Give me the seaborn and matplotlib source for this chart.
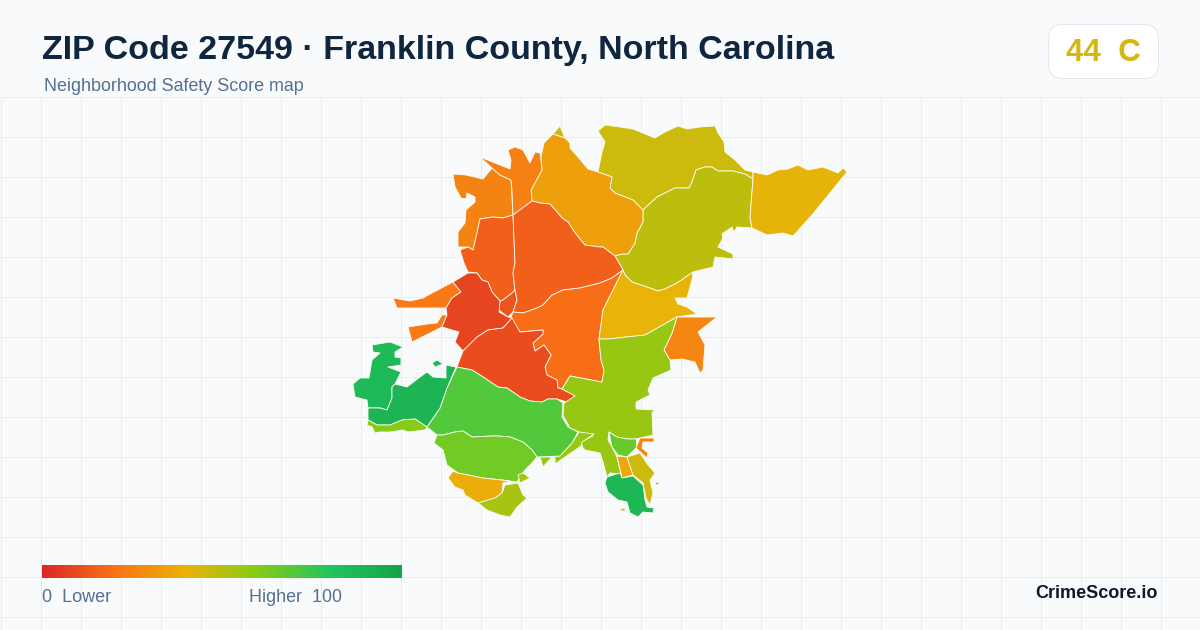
import matplotlib
matplotlib.use("Agg")
import matplotlib.pyplot as plt
from matplotlib.colors import Normalize
from matplotlib.patches import FancyBboxPatch
import numpy as np
import seaborn as sns

# ---- text ----
TITLE = "ZIP Code 27549 · Franklin County, North Carolina"
SUBTITLE = "Neighborhood Safety Score map"
BADGE = "44  C"
BRAND = "CrimeScore.io"
LEGEND_LOW = "0  Lower"
LEGEND_HIGH = "Higher  100"
SCALE_COLORS = ["#dc2626", "#f97316", "#eab308", "#84cc16", "#22c55e", "#16a34a"]

# ---- tract outlines, in map units, and their safety scores ----
north_tip = [(553,134),(560,126),(565,138)]
north_olive = [(598,131),(605,125),(620,127),(633,129),(655,138),(665,132),(678,126),(687,129),(700,127),(715,126),(718,133),(724,142),(725,152),(735,160),(745,170),(753,172),(753,179),(745,174),(733,171),(718,171),(712,167),(705,167),(696,170),(692,182),(689,188),(675,188),(665,193),(657,197),(643,210),(633,200),(615,193),(610,188),(612,177),(598,172),(602,152),(605,142)]
mid_olive = [(615,256),(622,254),(628,254),(635,243),(637,233),(643,222),(643,210),(657,197),(665,193),(675,188),(689,188),(692,182),(696,170),(705,167),(712,167),(718,171),(733,171),(745,174),(753,179),(750,218),(752,228),(737,227),(734,232),(732,227),(722,234),(723,238),(718,247),(733,254),(733,259),(715,257),(713,267),(693,272),(677,283),(665,289),(658,291),(647,287),(632,282),(625,275),(623,270)]
east_yellow = [(753,172),(767,175),(778,170),(788,169),(798,165),(808,170),(823,167),(838,173),(843,168),(847,172),(812,215),(803,225),(793,236),(783,233),(767,235),(752,228),(750,218),(753,179)]
north_amber = [(553,134),(565,138),(570,143),(570,148),(578,157),(588,169),(598,172),(612,177),(610,188),(615,193),(633,200),(643,210),(643,222),(637,233),(635,243),(628,254),(622,254),(615,256),(603,247),(600,247),(585,245),(579,238),(573,230),(568,222),(562,218),(557,212),(550,204),(540,203),(532,201),(531,190),(542,170),(541,157),(544,143)]
nw_orange = [(453,174),(466,175),(483,179),(492,168),(500,175),(511,180),(513,215),(503,218),(493,217),(480,219),(477,233),(473,250),(468,247),(458,247),(458,232),(465,223),(466,210),(475,202),(475,197),(467,193),(466,199),(461,198),(455,187)]
north_orange = [(480,157),(510,169),(511,160),(508,150),(515,147),(523,150),(530,163),(535,152),(540,153),(542,170),(531,190),(532,201),(513,215),(512,190),(511,180),(500,175),(492,168)]
center_west = [(480,219),(493,217),(503,218),(513,215),(515,263),(513,273),(515,290),(512,293),(503,300),(500,301),(492,292),(488,282),(482,280),(477,273),(468,272),(464,263),(460,250),(468,247),(473,250),(477,233)]
center_knot = [(515,290),(517,300),(513,312),(508,317),(499,310),(500,301),(503,300),(512,293)]
center_north = [(513,215),(532,201),(540,203),(550,204),(557,212),(562,218),(568,222),(573,230),(579,238),(585,245),(600,247),(603,247),(615,256),(623,270),(612,278),(600,283),(580,288),(563,290),(552,295),(543,305),(537,308),(523,313),(513,312),(517,300),(515,290),(513,273),(515,263)]
center_south = [(513,312),(523,313),(537,308),(543,305),(552,295),(563,290),(580,288),(600,283),(612,278),(623,270),(603,310),(599,339),(601,360),(604,370),(602,382),(570,376),(562,389),(558,388),(557,380),(547,375),(545,367),(551,355),(544,345),(535,351),(533,343),(543,334),(543,330),(520,332),(510,320)]
red_core = [(453,282),(468,273),(477,273),(482,280),(488,282),(492,292),(500,301),(499,312),(508,317),(512,318),(503,328),(488,330),(477,337),(463,351),(455,342),(459,332),(442,327),(447,315),(446,308),(452,298),(461,292)]
west_arm = [(393,298),(410,301),(423,298),(432,293),(453,282),(461,292),(452,298),(446,308),(420,308),(397,308)]
west_arm_low = [(408,327),(427,324),(437,323),(442,315),(447,315),(442,327),(430,333),(412,342)]
south_red = [(512,318),(520,332),(543,330),(543,334),(533,343),(535,351),(544,345),(551,355),(545,367),(547,375),(557,380),(558,388),(562,389),(576,396),(567,402),(557,399),(548,399),(542,402),(530,401),(520,397),(507,388),(498,387),(483,377),(472,370),(457,367),(463,351),(477,337),(488,330),(503,328)]
mid_amber = [(623,270),(625,275),(632,282),(647,287),(658,291),(665,289),(677,283),(693,272),(692,280),(687,298),(675,298),(678,304),(687,307),(697,314),(677,317),(645,335),(608,339),(599,339),(603,310)]
east_orange = [(677,317),(717,317),(698,332),(705,345),(703,370),(700,373),(695,362),(682,359),(670,360),(664,350),(672,333)]
lime_main = [(599,339),(608,339),(645,335),(677,317),(672,333),(664,350),(670,360),(671,370),(653,378),(648,390),(650,395),(636,402),(636,409),(655,410),(652,413),(653,435),(636,439),(627,439),(617,437),(609,432),(608,440),(612,447),(617,457),(621,474),(610,473),(607,477),(603,462),(600,453),(585,450),(583,448),(581,442),(593,436),(579,432),(570,428),(563,415),(564,403),(575,396),(562,389),(570,376),(602,382),(604,370),(601,360)]
lime_tail = [(579,432),(594,434),(582,442),(581,446),(555,464),(555,456),(560,456),(572,443)]
lime_sliver = [(540,457),(552,457),(543,467)]
mid_green = [(457,367),(472,370),(483,377),(498,387),(507,388),(520,397),(530,401),(542,402),(548,399),(557,399),(563,403),(562,417),(568,427),(578,432),(572,443),(560,456),(537,457),(532,450),(523,442),(510,437),(498,436),(492,436),(472,437),(463,431),(455,432),(443,435),(437,435),(427,427),(440,408),(447,388)]
south_green = [(437,435),(443,435),(455,432),(463,431),(472,437),(492,436),(498,436),(510,437),(523,442),(532,450),(537,457),(530,465),(525,470),(517,482),(503,480),(483,478),(458,473),(447,465),(443,450),(434,443)]
south_amber = [(453,471),(458,473),(483,478),(510,481),(503,483),(502,493),(495,498),(478,503),(465,495),(463,490),(455,487),(448,478)]
south_lime = [(478,503),(495,498),(502,493),(505,485),(518,483),(523,495),(527,498),(517,507),(510,517),(500,515),(487,510)]
south_lime_bit = [(518,475),(523,473),(530,478),(520,483)]
nw_green = [(372,345),(390,342),(403,347),(395,352),(395,357),(401,358),(401,365),(388,367),(401,372),(395,384),(392,387),(392,398),(387,410),(380,408),(368,408),(367,400),(355,397),(353,384),(360,378),(369,378),(372,360),(380,353),(373,352)]
west_green = [(392,387),(395,384),(407,387),(420,377),(427,372),(433,377),(446,378),(446,365),(456,367),(447,388),(440,408),(427,427),(415,419),(402,420),(390,425),(377,425),(368,420),(368,408),(380,408),(387,410),(392,398)]
west_green_dot = [(432,363),(437,360),(443,364),(435,367)]
west_lime = [(367,425),(368,420),(377,425),(390,425),(402,420),(415,419),(427,427),(425,430),(408,432),(403,430),(390,432),(380,432),(375,433),(372,427)]
se_green = [(609,432),(617,437),(627,439),(636,439),(637,447),(627,457),(618,455),(612,447)]
se_orange = [(640,438),(654,438),(654,442),(643,442),(642,448),(648,453),(647,458),(636,448)]
se_amber = [(617,456),(627,457),(633,475),(622,478)]
se_olive = [(627,457),(640,453),(648,465),(655,473),(650,480),(653,493),(650,505),(646,498),(643,483),(633,475)]
se_dark_green = [(607,477),(620,473),(622,478),(633,476),(643,485),(645,500),(647,507),(654,508),(653,513),(643,512),(638,517),(630,513),(627,502),(618,500),(608,492),(605,483)]
se_dot = [(620,509),(625,508),(625,511),(621,511)]
se_orange_dot = [(655,483),(659,482),(659,484),(656,485)]

TRACTS = [north_tip, north_olive, mid_olive, east_yellow, north_amber, nw_orange, north_orange,
          center_west, center_knot, center_north, center_south, west_arm, west_arm_low, red_core,
          south_red, mid_amber, east_orange, lime_main, lime_tail, lime_sliver, mid_green,
          south_green, south_amber, south_lime, south_lime_bit, nw_green, west_green,
          west_green_dot, west_lime, se_green, se_orange, se_amber, se_olive, se_dark_green,
          se_dot, se_orange_dot]
SCORES = [46, 46, 49, 41, 34, 25, 24,
          15, 12, 15, 19, 22, 22, 8,
          10, 40, 26, 56, 56, 56, 70,
          64, 38, 53, 53, 86, 90,
          86, 60, 66, 25, 36, 46, 88,
          50, 25]

sns.set_theme(style="white")
plt.rcParams["font.family"] = ["Liberation Sans", "DejaVu Sans"]

BG = "#f8fafc"
GRID = "#e3edf2"
fig = plt.figure(figsize=(12, 6.3), dpi=100, facecolor=BG)
ax = fig.add_axes([0, 0, 1, 1], facecolor=BG)
ax.set_axis_off()

# background grid
ax.hlines(np.arange(96.5, 630, 40), 0, 1200, color=GRID, lw=0.72, zorder=0)
ax.vlines(np.arange(0.5, 1201, 40), 96.5, 630, color=GRID, lw=0.72, zorder=0)

cmap = sns.blend_palette(SCALE_COLORS, as_cmap=True)
norm = Normalize(0, 100)

for outline, score in zip(TRACTS, SCORES):
    xs, ys = zip(*outline)
    ax.fill(xs, ys, facecolor=cmap(norm(score)), edgecolor="#fdfdf2", lw=0.6, joinstyle="round", zorder=2)

# legend bar
ramp = np.linspace(0, 100, 360)[None, :]
ax.imshow(ramp, cmap=cmap, norm=norm, extent=(42, 402, 578, 565), aspect="auto", zorder=3)
ax.set_xlim(0, 1200)
ax.set_ylim(630, 0)

# header
ax.text(42, 50, TITLE, fontsize=24.47, fontweight="bold", color="#10263f", va="center", ha="left")
ax.text(44, 86.5, SUBTITLE, fontsize=12.9, color="#557090", va="center", ha="left")

badge = FancyBboxPatch((1048.5, 24.5), 110, 54, boxstyle="round,pad=0,rounding_size=14",
                       facecolor="#ffffff", edgecolor="#e2e8f0", lw=0.75, zorder=3)
ax.add_patch(badge)
ax.text(1103, 53, BADGE, fontsize=22.6, fontweight="bold", color="#d4b80f", va="center", ha="center", zorder=4)

# legend and brand text
ax.text(42, 597.5, LEGEND_LOW, fontsize=13, color="#557090", va="center", ha="left")
ax.text(342, 597.5, LEGEND_HIGH, fontsize=12.9, color="#557090", va="center", ha="right")
ax.text(1158, 594, BRAND, fontsize=13, fontweight="bold", color="#0f172a", va="center", ha="right")

fig.savefig("out.png", dpi=100, facecolor=BG)
